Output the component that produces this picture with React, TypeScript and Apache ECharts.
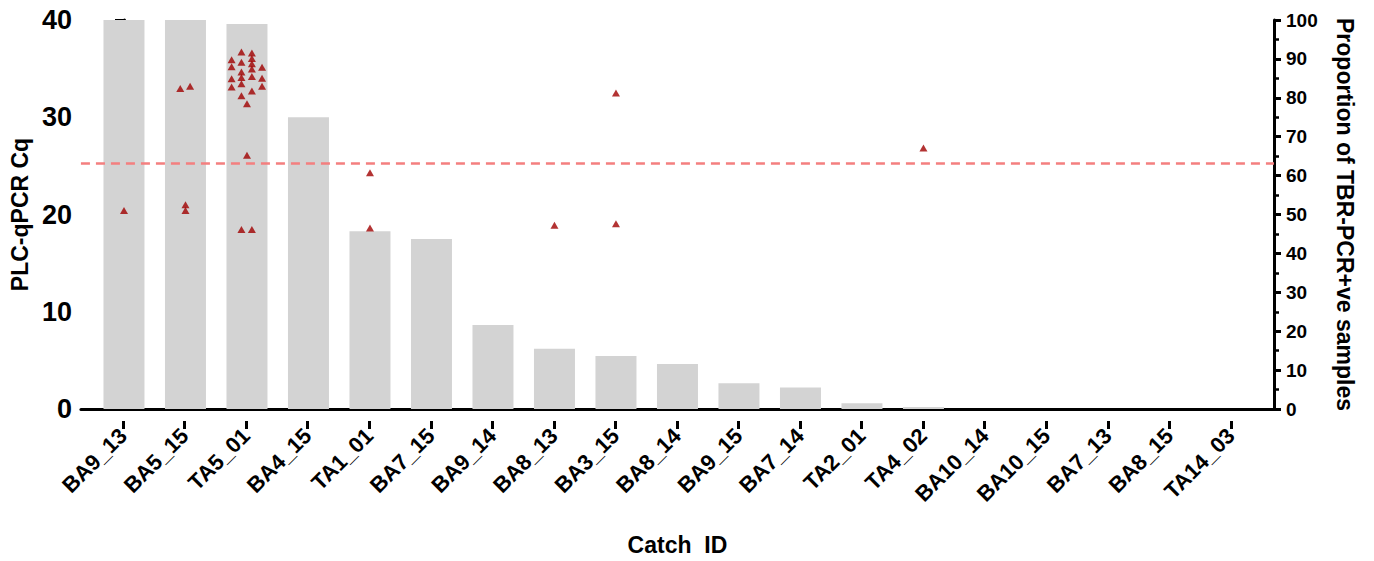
import React, { useEffect, useRef } from "react";
import * as echarts from "echarts";

const categories = [
  "BA9_13", "BA5_15", "TA5_01", "BA4_15", "TA1_01", "BA7_15", "BA9_14", "BA8_13", "BA3_15", "BA8_14",
  "BA9_15", "BA7_14", "TA2_01", "TA4_02", "BA10_14", "BA10_15", "BA7_13", "BA8_15", "TA14_03",
];

// Proportion of TBR-PCR+ve samples (%) per catch (right axis)
const proportion = [100, 100, 99, 75, 45.7, 43.7, 21.6, 15.5, 13.6, 11.6, 6.6, 5.5, 1.5, 0.5, 0, 0, 0, 0, 0];

// PLC-qPCR Cq points: [catch, horizontal jitter (in category units), Cq]
const cqPoints: [string, number, number][] = [
  ["BA9_13", 0, 20.4],
  ["BA5_15", -0.085, 32.95],
  ["BA5_15", 0.075, 33.2],
  ["BA5_15", 0, 21.0],
  ["BA5_15", 0, 20.4],
  ["TA5_01", -0.25, 35.9],
  ["TA5_01", -0.25, 35.2],
  ["TA5_01", -0.25, 33.95],
  ["TA5_01", -0.25, 33.1],
  ["TA5_01", -0.09, 36.7],
  ["TA5_01", -0.09, 35.65],
  ["TA5_01", -0.09, 34.65],
  ["TA5_01", -0.09, 34.1],
  ["TA5_01", -0.09, 33.45],
  ["TA5_01", -0.09, 32.2],
  ["TA5_01", 0, 31.4],
  ["TA5_01", 0.08, 36.6],
  ["TA5_01", 0.08, 36.05],
  ["TA5_01", 0.08, 35.5],
  ["TA5_01", 0.08, 34.95],
  ["TA5_01", 0.08, 34.2],
  ["TA5_01", 0.08, 32.7],
  ["TA5_01", 0.245, 35.15],
  ["TA5_01", 0.245, 34.0],
  ["TA5_01", 0.245, 33.2],
  ["TA5_01", 0, 26.1],
  ["TA5_01", -0.09, 18.45],
  ["TA5_01", 0.08, 18.45],
  ["TA1_01", 0, 24.3],
  ["TA1_01", 0, 18.6],
  ["BA8_13", 0, 18.9],
  ["BA3_15", 0, 32.5],
  ["BA3_15", 0, 19.05],
  ["TA4_02", 0, 26.85],
];

const cqThreshold = 25.3;

const leftTicks = { min: 0, max: 40, interval: 10 };
const rightTicks = { min: 0, max: 100, interval: 10 };

const FONT = "'Liberation Sans', Arial, Helvetica, sans-serif";

// frame layout
const W = 1374;
const AX_LEFT = 80;
const AX_RIGHT = 1274;
const PAD = 0.7; // category units of padding at each end of the x axis

export default function App() {
  const ref = useRef<HTMLDivElement>(null);

  useEffect(() => {
    if (!ref.current) return;
    const chart = echarts.init(ref.current, null, { renderer: "svg" });
    const n = categories.length;
    const unit = (AX_RIGHT - AX_LEFT) / (n - 1 + 2 * PAD);
    const innerLeft = AX_LEFT + (PAD - 0.5) * unit;
    const innerRight = W - (innerLeft + n * unit);

    const barData = proportion.map((v, i) => [i, v]);
    const scatterData = cqPoints.map(([c, j, v]) => [categories.indexOf(c) + j, v]);
    const titleStyle = { fontFamily: FONT, fontWeight: "bold", fontSize: 23, color: "#000" };

    chart.setOption({
      animation: false,
      backgroundColor: "#ffffff",
      grid: [
        { left: AX_LEFT, right: W - AX_RIGHT, top: 20, bottom: 140, containLabel: false },
        { left: innerLeft, right: innerRight, top: 20, bottom: 140, containLabel: false },
      ],
      xAxis: [
        {
          type: "value",
          gridIndex: 0,
          min: -PAD,
          max: n - 1 + PAD,
          name: "Catch  ID",
          nameLocation: "middle",
          nameGap: 124,
          nameTextStyle: titleStyle,
          axisLine: { show: true, onZero: false, lineStyle: { color: "#000", width: 3 } },
          axisTick: { show: false },
          axisLabel: { show: false },
          splitLine: { show: false },
        },
        {
          type: "category",
          gridIndex: 1,
          data: categories,
          boundaryGap: true,
          axisLine: { show: false },
          axisTick: { show: true, alignWithLabel: true, length: 8, lineStyle: { color: "#000", width: 3 } },
          axisLabel: {
            interval: 0,
            rotate: 45,
            margin: 11,
            fontFamily: FONT,
            fontWeight: "bold",
            fontSize: 22,
            color: "#000",
          },
          splitLine: { show: false },
        },
      ],
      yAxis: [
        {
          type: "value",
          gridIndex: 0,
          min: leftTicks.min,
          max: leftTicks.max,
          interval: leftTicks.interval,
          name: "PLC-qPCR Cq",
          nameLocation: "middle",
          nameGap: 48,
          nameTextStyle: titleStyle,
          axisLine: { show: true, lineStyle: { color: "#000", width: 3 } },
          axisTick: { show: true, length: 9, lineStyle: { color: "#000", width: 3 } },
          minorTick: { show: true, splitNumber: 5, length: 6, lineStyle: { color: "#000", width: 2.5 } },
          axisLabel: { fontFamily: FONT, fontWeight: "bold", fontSize: 27, color: "#000", margin: 9 },
          splitLine: { show: false },
        },
        {
          type: "value",
          gridIndex: 0,
          position: "right",
          min: rightTicks.min,
          max: rightTicks.max,
          interval: rightTicks.interval,
          name: "Proportion of TBR-PCR+ve samples",
          nameLocation: "middle",
          nameRotate: -90,
          nameGap: 59,
          nameTextStyle: titleStyle,
          axisLine: { show: true, lineStyle: { color: "#000", width: 3 } },
          axisTick: { show: true, length: 7, lineStyle: { color: "#000", width: 3 } },
          minorTick: { show: true, splitNumber: 2, length: 5, lineStyle: { color: "#000", width: 2.5 } },
          axisLabel: { fontFamily: FONT, fontWeight: "bold", fontSize: 19, color: "#000", margin: 12 },
          splitLine: { show: false },
        },
        {
          type: "value",
          gridIndex: 1,
          min: 0,
          max: 40,
          show: false,
        },
      ],
      series: [
        {
          type: "bar",
          xAxisIndex: 0,
          yAxisIndex: 1,
          data: barData,
          barWidth: 41,
          itemStyle: { color: "#d3d3d3" },
          silent: true,
        },
        {
          type: "scatter",
          xAxisIndex: 0,
          yAxisIndex: 0,
          data: scatterData,
          symbol: "triangle",
          symbolSize: [8, 7],
          itemStyle: { color: "#a00000" },
          z: 5,
          markLine: {
            silent: true,
            symbol: "none",
            label: { show: false },
            lineStyle: { color: "#f47f7f", type: [9, 6], width: 2.5 },
            data: [{ yAxis: cqThreshold }],
          },
        },
      ],
    });

    return () => chart.dispose();
  }, []);

  return (
    <div
      ref={ref}
      style={{ position: "fixed", left: 0, top: 0, width: 1374, height: 561, background: "#fff" }}
    />
  );
}
